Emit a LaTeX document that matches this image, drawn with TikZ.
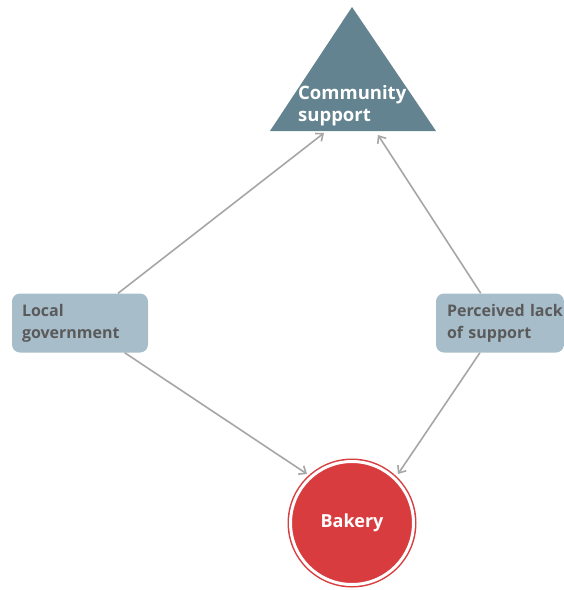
\documentclass[tikz,border=0pt]{standalone}
\usepackage{fontspec}
\setmainfont{Open Sans}
\usetikzlibrary{arrows.meta, positioning}

\definecolor{slate}{HTML}{62838F}
\definecolor{boxblue}{HTML}{A7BDCA}
\definecolor{bakred}{HTML}{D83C3F}
\definecolor{txtgray}{HTML}{5A5A5A}
\definecolor{linegray}{HTML}{A6A6A6}

\begin{document}
\begin{tikzpicture} [x=1pt, y=-1pt,
    factor/.style = {rectangle, rounded corners=8pt, fill=boxblue, text=txtgray,
        font=\bfseries\fontsize{16}{22}\selectfont, align=left, minimum height=59pt},
    link/.style = {-{Straight Barb[length=6pt, width=10pt]}, linegray, line width=1.6pt}]

    \useasboundingbox (0,0) rectangle (564,590);

    % top triangle
    \fill [slate] (352,7) -- (436,131) -- (270,131) -- cycle;
    \node (cs) [anchor=north west, inner sep=0pt, text=white, align=left,
        font=\bfseries\fontsize{18.5}{22}\selectfont] at (298,85) {Community\\support};
    \coordinate (cs1) at (324,133);
    \coordinate (cs2) at (378,135);

    \node (gov) [factor, inner xsep=10pt, text width=116pt] at (80,323) {Local\\government};
    \node (lack) [factor, inner xsep=11pt, text width=106pt] at (500,323) {Perceived~lack\\of~support};

    \node (bakery) [circle, minimum size=123pt, fill=bakred, draw=bakred, double=white,
        double distance=3pt, line width=1.5pt, text=white,
        font=\bfseries\fontsize{18}{22}\selectfont] at (352,523) {Bakery};
    \coordinate (bk1) at (307,474);
    \coordinate (bk2) at (398,474);

    \path [link] (gov) edge (cs1);
    \path [link] (gov) edge (bk1);
    \path [link] (lack) edge (cs2);
    \path [link] (lack) edge (bk2);

\end{tikzpicture}
\end{document}
